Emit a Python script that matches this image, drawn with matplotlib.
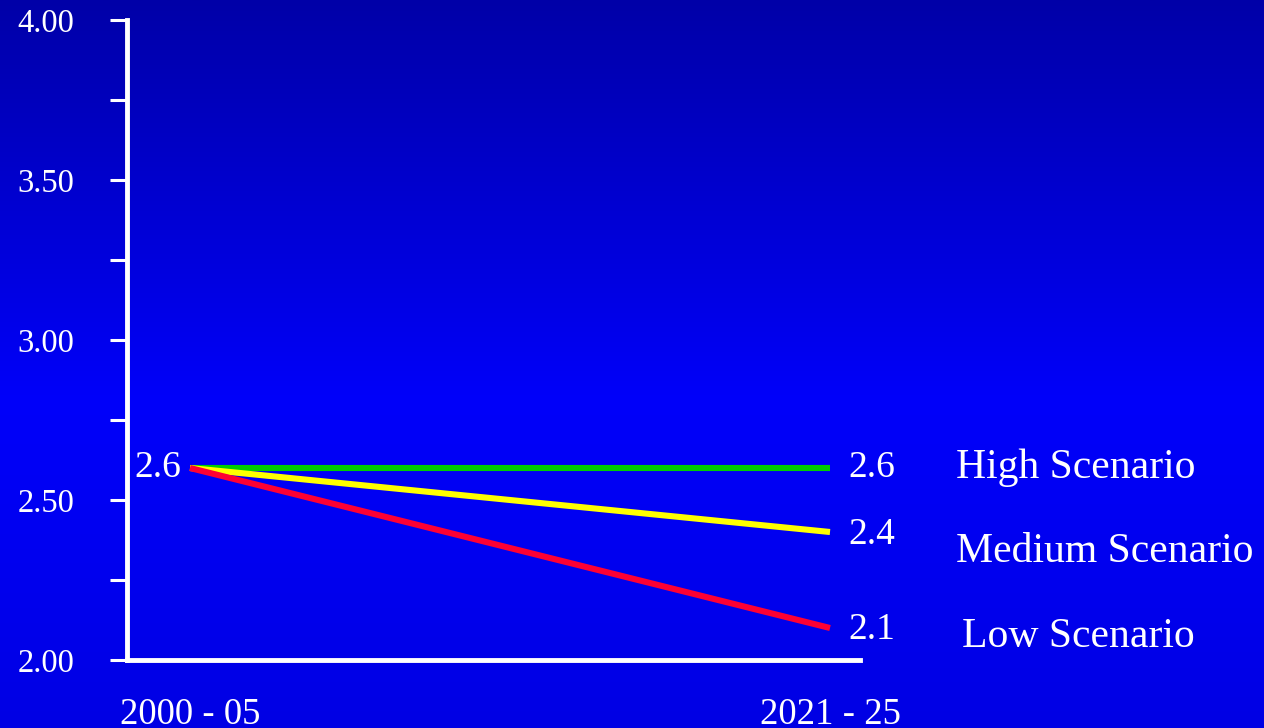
import matplotlib.pyplot as plt
import numpy as np

periods = ['2000 - 05', '2021 - 25']
scenarios = ['High Scenario', 'Medium Scenario', 'Low Scenario']
high = [2.6, 2.6]
medium = [2.6, 2.4]
low = [2.6, 2.1]
colors = ['#00CC00', '#FFFF00', '#FF0033']

plt.rcParams['font.family'] = ['Liberation Serif', 'DejaVu Serif']

fig = plt.figure(figsize=(12.64, 7.28), dpi=100)

# background gradient: dark blue at top, bright blue lower down
bg = fig.add_axes([0, 0, 1, 1], zorder=-1)
t = np.linspace(0, 1, 256)
blue = np.interp(t, [0, 0.55, 1], [168, 250, 228]) / 255
grad = np.zeros((256, 1, 3))
grad[:, 0, 2] = blue
bg.imshow(grad, aspect='auto', extent=[0, 1, 0, 1], origin='upper')
bg.axis('off')

W, H = 1264, 728
ax = fig.add_axes([127 / W, (H - 660) / H, (860 - 127) / W, 640 / H])
ax.patch.set_alpha(0)

x = np.arange(len(periods))
series = [high, medium, low]
for vals, c in zip(series, colors):
    ax.plot(x, vals, color=c, lw=4.4, solid_capstyle='butt', zorder=3)

ax.set_ylim(2.0, 4.0)
ax.set_xlim(-63 / 640, 1 + 30 / 640)
ax.set_yticks([2.0, 2.5, 3.0, 3.5, 4.0])
ax.set_yticks([2.25, 2.75, 3.25, 3.75], minor=True)
ax.set_yticklabels(['%.2f' % v for v in [2.0, 2.5, 3.0, 3.5, 4.0]])
ax.tick_params(axis='y', which='both', length=12, width=2.2, color='white',
               labelcolor='white', labelsize=23.5, pad=26)
ax.set_xticks(x)
ax.set_xticklabels(periods)
ax.tick_params(axis='x', length=0, labelcolor='white', labelsize=26.5, pad=27)

for s in ['top', 'right']:
    ax.spines[s].set_visible(False)
for s in ['left', 'bottom']:
    ax.spines[s].set_color('white')
    ax.spines[s].set_linewidth(3.5)

# start value label
ax.annotate('%.1f' % high[0], xy=(0, high[0]), xytext=(-6, 0), textcoords='offset points',
            ha='right', va='center', color='white', fontsize=27, annotation_clip=False)

# end value labels and scenario names
value_offsets = [0, -2, -1]
name_offsets = [(91, 0), (91, -14), (95, -6)]
for vals, name, vdy, (nx, ny) in zip(series, scenarios, value_offsets, name_offsets):
    ax.annotate('%.1f' % vals[-1], xy=(1, vals[-1]), xytext=(13, vdy), textcoords='offset points',
                ha='left', va='center', color='white', fontsize=27, annotation_clip=False)
    ax.annotate(name, xy=(1, vals[-1]), xytext=(nx, ny), textcoords='offset points',
                ha='left', va='center', color='white', fontsize=30, annotation_clip=False)

fig.savefig('out.png', dpi=100)
